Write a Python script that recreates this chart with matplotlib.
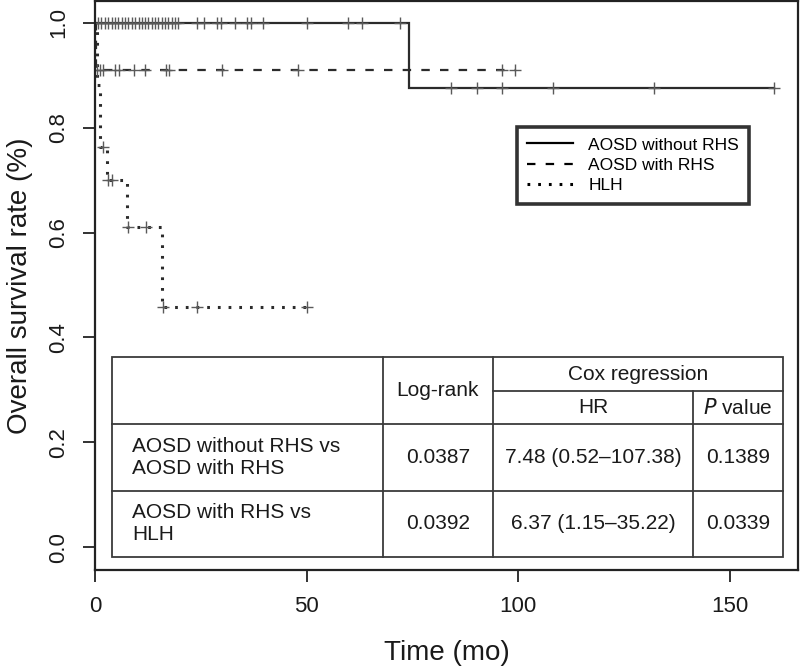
import matplotlib
matplotlib.use("Agg")
import matplotlib.pyplot as plt
from matplotlib.lines import Line2D
from matplotlib.patches import Rectangle

plt.rcParams['font.family'] = ['Liberation Sans', 'DejaVu Sans']

# ---------------- data ----------------
# AOSD without RHS (solid)
s1_times = [0.0, 74.2, 160.4]
s1_surv = [1.0, 0.875, 0.875]
s1_cens_t = [0.8, 1.5, 2.4, 3.1, 4.0, 4.7, 5.5, 6.3, 7.1, 7.9, 8.7, 9.4, 10.3, 11.0,
             11.8, 12.6, 13.4, 14.2, 15.0, 15.8, 16.6, 17.3, 18.1, 18.9, 19.7,
             24.0, 25.8, 28.9, 29.7, 33.1, 36.0, 36.8, 39.8, 50.0, 59.8, 63.0, 72.1,
             84.1, 90.2, 96.2, 108.3, 132.1, 160.4]
s1_cens_s = [1.0] * 37 + [0.875] * 6

# AOSD with RHS (dashed)
s2_times = [0.0, 0.3, 99.2]
s2_surv = [1.0, 0.909, 0.909]
s2_cens_t = [0.55, 1.2, 1.8, 4.7, 5.7, 9.1, 11.8, 16.8, 17.6, 29.9, 48.0, 96.2, 99.2]
s2_cens_s = [0.909] * 13

# HLH (dotted)
s3_times = [0.0, 0.4, 1.2, 2.75, 7.6, 15.9, 50.0]
s3_surv = [1.0, 0.882, 0.764, 0.70, 0.611, 0.458, 0.458]
s3_cens_t = [2.0, 3.0, 3.9, 7.9, 12.0, 16.0, 24.0, 50.0]
s3_cens_s = [0.764, 0.70, 0.70, 0.611, 0.611, 0.458, 0.458, 0.458]

series_names = ["AOSD without RHS", "AOSD with RHS", "HLH"]

x_ticks = [0, 50, 100, 150]
y_ticks = [0.0, 0.2, 0.4, 0.6, 0.8, 1.0]
y_ticklabels = ["0.0", "0.2", "0.4", "0.6", "0.8", "1.0"]

table_header_logrank = "Log-rank"
table_header_cox = "Cox regression"
table_header_hr = "HR"
table_rows_label = ["AOSD without RHS vs\nAOSD with RHS", "AOSD with RHS vs\nHLH"]
table_rows_logrank = ["0.0387", "0.0392"]
table_rows_hr = ["7.48 (0.52\u2013107.38)", "6.37 (1.15\u201335.22)"]
table_rows_p = ["0.1389", "0.0339"]

# ---------------- figure ----------------
W, H = 800, 668
fig = plt.figure(figsize=(W / 100, H / 100), dpi=100)


def fx(px):
    return px / W


def fy(py):
    return 1 - py / H


ax_l, ax_r, ax_t, ax_b = 95, 798, 1, 570
ax = fig.add_axes([fx(ax_l), fy(ax_b), fx(ax_r - ax_l), (ax_b - ax_t) / H])
ax.set_xlim(0, 166.1)
ax.set_ylim(-0.0431, 1.0413)

line_col = "#2b2b2b"
cens_col = "#5a5a5a"

ax.step(s1_times, s1_surv, where="post", color=line_col, lw=1.6, solid_joinstyle="miter")
ax.step(s2_times, s2_surv, where="post", color=line_col, lw=1.6, linestyle=(0, (3.8, 4.6)))
ax.step(s3_times, s3_surv, where="post", color=line_col, lw=2.2, linestyle=(0, (0.9, 2.6)),
        dash_capstyle="butt")

for ct, cs in [(s1_cens_t, s1_cens_s), (s2_cens_t, s2_cens_s), (s3_cens_t, s3_cens_s)]:
    ax.plot(ct, cs, linestyle="none", marker="+", ms=8, mew=1.0, color=cens_col)

for sp in ax.spines.values():
    sp.set_linewidth(1.6)
    sp.set_color("#222222")

ax.set_xticks(x_ticks)
ax.set_xticklabels([str(v) for v in x_ticks])
ax.set_yticks(y_ticks)
ax.set_yticklabels(y_ticklabels, rotation=90, va="center")
ax.tick_params(axis="both", direction="out", length=8.5, width=1.3, color="#222222",
               labelsize=16, pad=10, labelcolor="#1a1a1a")

fig.text(fx((ax_l + ax_r) / 2), fy(660), "Time (mo)", ha="center", va="baseline",
         fontsize=20, color="#1a1a1a")
fig.text(fx(20), fy((ax_t + ax_b) / 2), "Overall survival rate (%)", ha="center",
         va="center", rotation=90, fontsize=20, color="#1a1a1a")

# legend
handles = [Line2D([], [], color="black", lw=1.6),
           Line2D([], [], color="black", lw=1.6, linestyle=(0, (3.8, 4.6))),
           Line2D([], [], color="black", lw=2.2, linestyle=(0, (0.9, 2.6)))]
leg = ax.legend(handles, series_names, loc="upper left",
                bbox_to_anchor=(fx(517), fy(127)), bbox_transform=fig.transFigure,
                fontsize=12.5, frameon=True, fancybox=False, handlelength=2.6,
                handletextpad=0.9, labelspacing=0.3, borderpad=0.6, borderaxespad=0)
leg.get_frame().set_edgecolor("black")
leg.get_frame().set_linewidth(2.6)

# table
tl, tr, tt, tb = 112, 783, 357, 557
c1, c2, c3 = 382.6, 492.9, 692.9
r_sub, r_head, r1 = 391, 424, 490.7
tcol = "#3a3a3a"
tlw = 1.3

fig.add_artist(Rectangle((fx(tl), fy(tb)), fx(tr - tl), (tb - tt) / H,
                         transform=fig.transFigure, facecolor="white",
                         edgecolor=tcol, lw=tlw, zorder=5))


def hline(x0, x1, y):
    fig.add_artist(Line2D([fx(x0), fx(x1)], [fy(y), fy(y)], transform=fig.transFigure,
                          color=tcol, lw=tlw, zorder=6))


def vline(x, y0, y1):
    fig.add_artist(Line2D([fx(x), fx(x)], [fy(y0), fy(y1)], transform=fig.transFigure,
                          color=tcol, lw=tlw, zorder=6))


hline(c2, tr, r_sub)
hline(tl, tr, r_head)
hline(tl, tr, r1)
vline(c1, tt, tb)
vline(c2, tt, tb)
vline(c3, r_sub, tb)

tfs = 15
tc = "#1a1a1a"


def ttext(x, y, s, ha="center", **kw):
    fig.text(fx(x), fy(y), s, ha=ha, va="center", fontsize=tfs, color=tc, zorder=7, **kw)


ttext((c1 + c2) / 2, (tt + r_head) / 2, table_header_logrank)
ttext((c2 + tr) / 2, (tt + r_sub) / 2, table_header_cox)
ttext((c2 + c3) / 2, (r_sub + r_head) / 2, table_header_hr)
ttext((c3 + tr) / 2, (r_sub + r_head) / 2, r"$\mathit{P}$ value")

row_centers = [(r_head + r1) / 2, (r1 + tb) / 2]
for i, yc in enumerate(row_centers):
    fig.text(fx(132), fy(yc), table_rows_label[i], ha="left", va="center", fontsize=tfs,
             color=tc, linespacing=1.2, zorder=7)
    ttext((c1 + c2) / 2, yc, table_rows_logrank[i])
    ttext((c2 + c3) / 2, yc, table_rows_hr[i])
    ttext((c3 + tr) / 2, yc, table_rows_p[i])

fig.savefig("out.png", dpi=100)
